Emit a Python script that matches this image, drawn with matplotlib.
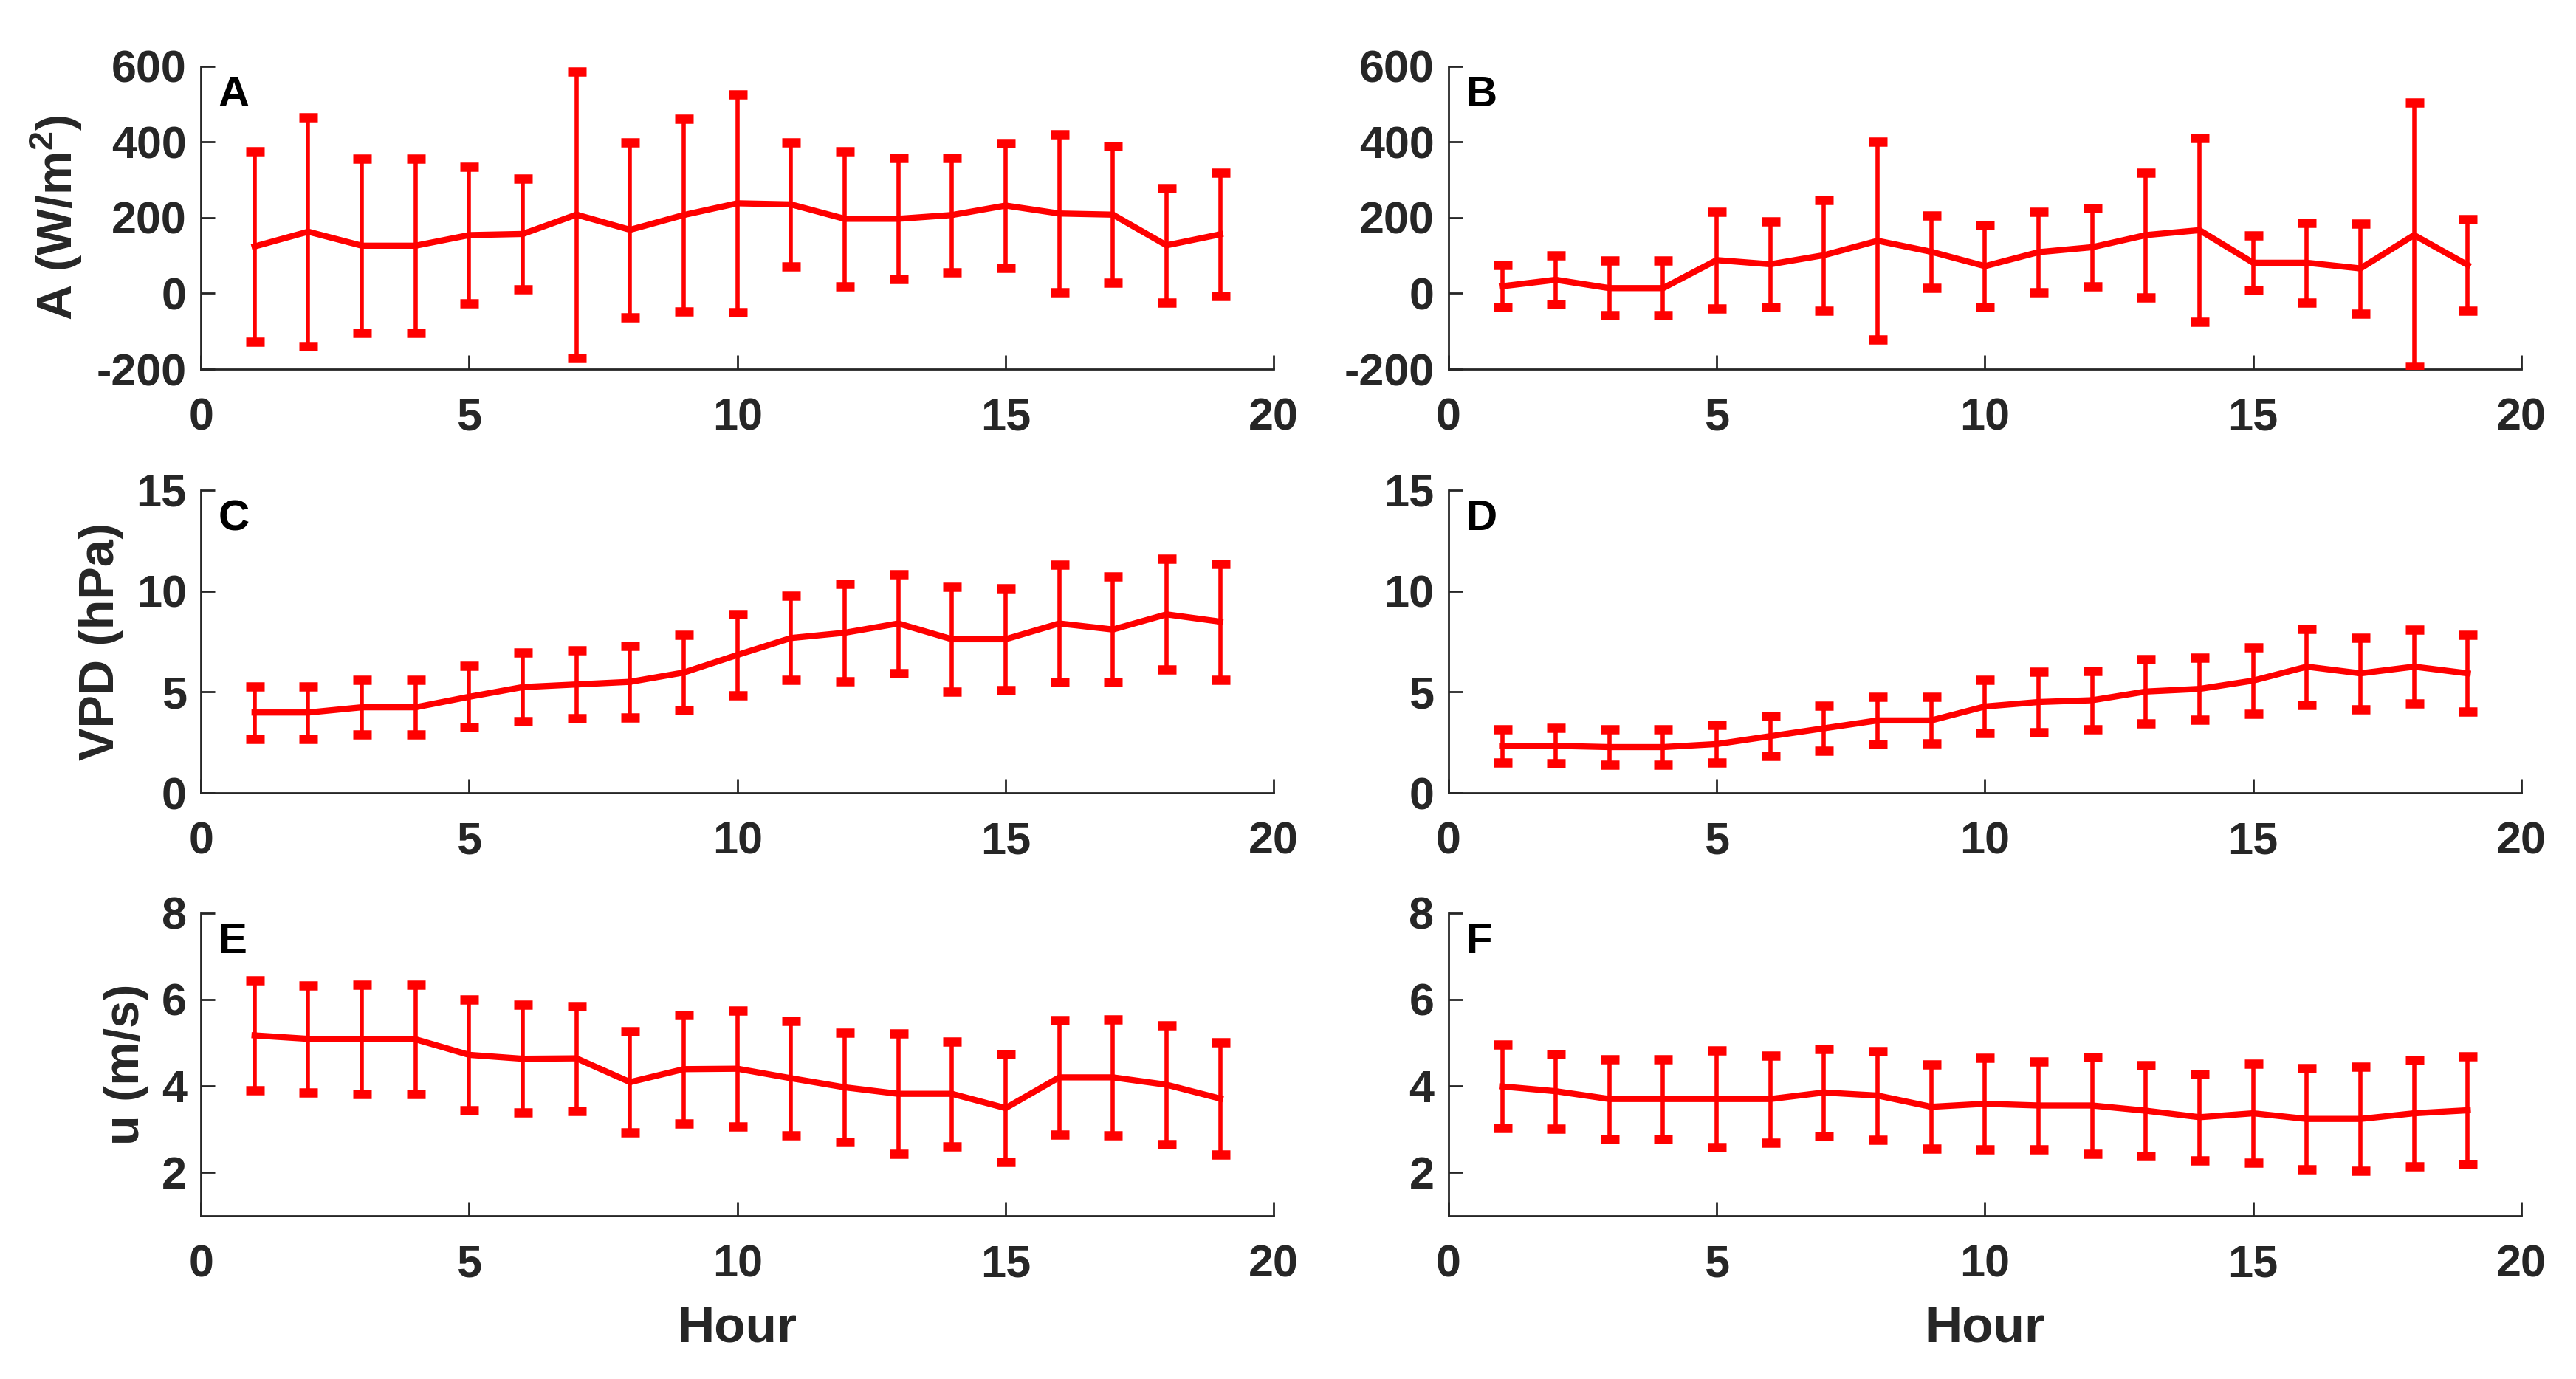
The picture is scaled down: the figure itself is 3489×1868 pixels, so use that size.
import matplotlib
matplotlib.use("Agg")
import matplotlib.pyplot as plt
import numpy as np

plt.rcParams['font.family'] = ['Liberation Sans', 'DejaVu Sans']
plt.rcParams['font.weight'] = 'bold'
plt.rcParams['mathtext.default'] = 'regular'
plt.rcParams['axes.unicode_minus'] = False

# hours 1..19
hours = np.arange(1, 20)

# A - site 1 (mean, sd)
a_left = [124, 163, 126, 126, 154, 157, 208, 168, 207, 238, 235, 197, 197, 207, 232, 211, 208, 127, 156]
a_left_sd = [252, 302, 230, 230, 180, 146, 378, 231, 254, 287, 163, 179, 160, 151, 165, 209, 180, 151, 162]
# B - site 2
a_right = [19, 36, 14, 14, 88, 77, 101, 139, 110, 72, 109, 122, 154, 167, 81, 81, 66, 154, 75]
a_right_sd = [56, 64, 72, 72, 128, 113, 146, 261, 96, 109, 107, 104, 164, 243, 72, 106, 119, 349, 120]

# C / D - VPD
vpd_left = [3.98, 3.98, 4.24, 4.24, 4.76, 5.24, 5.37, 5.50, 5.96, 6.83, 7.67, 7.93, 8.39, 7.61, 7.61, 8.39, 8.09, 8.84, 8.48]
vpd_left_sd = [1.30, 1.30, 1.35, 1.35, 1.52, 1.69, 1.68, 1.78, 1.88, 2.01, 2.09, 2.42, 2.45, 2.59, 2.52, 2.92, 2.62, 2.74, 2.87]
vpd_right = [2.33, 2.33, 2.27, 2.27, 2.42, 2.81, 3.20, 3.59, 3.59, 4.28, 4.50, 4.59, 5.02, 5.15, 5.56, 6.25, 5.92, 6.25, 5.92]
vpd_right_sd = [0.83, 0.88, 0.88, 0.88, 0.93, 0.99, 1.11, 1.18, 1.15, 1.30, 1.51, 1.46, 1.59, 1.53, 1.66, 1.88, 1.77, 1.82, 1.89]

# E / F - wind speed
u_left = [5.17, 5.09, 5.08, 5.08, 4.72, 4.63, 4.64, 4.09, 4.39, 4.40, 4.18, 3.97, 3.82, 3.82, 3.49, 4.20, 4.20, 4.03, 3.71]
u_left_sd = [1.27, 1.24, 1.26, 1.26, 1.28, 1.25, 1.21, 1.17, 1.25, 1.34, 1.32, 1.26, 1.39, 1.21, 1.25, 1.32, 1.34, 1.37, 1.30]
u_right = [3.99, 3.88, 3.70, 3.70, 3.70, 3.70, 3.85, 3.78, 3.52, 3.59, 3.55, 3.55, 3.43, 3.28, 3.37, 3.24, 3.24, 3.37, 3.44]
u_right_sd = [0.96, 0.86, 0.92, 0.92, 1.12, 1.01, 1.00, 1.03, 0.97, 1.06, 1.02, 1.11, 1.05, 1.00, 1.14, 1.17, 1.20, 1.23, 1.24]

panels = [
    ("A", a_left, a_left_sd, (-200, 600), [-200, 0, 200, 400, 600], r"A (W/m$^{2}$)"),
    ("B", a_right, a_right_sd, (-200, 600), [-200, 0, 200, 400, 600], None),
    ("C", vpd_left, vpd_left_sd, (0, 15), [0, 5, 10, 15], "VPD (hPa)"),
    ("D", vpd_right, vpd_right_sd, (0, 15), [0, 5, 10, 15], None),
    ("E", u_left, u_left_sd, (1, 8), [2, 4, 6, 8], "u (m/s)"),
    ("F", u_right, u_right_sd, (1, 8), [2, 4, 6, 8], None),
]

fig = plt.figure(figsize=(34.89, 18.68), dpi=100)

lefts = [0.078, 0.5623]
width = 0.4165
bottoms = [0.7323, 0.425, 0.1183]
height = 0.2197

for i, (letter, mean, sd, ylim, yticks, ylabel) in enumerate(panels):
    row, col = i // 2, i % 2
    ax = fig.add_axes([lefts[col], bottoms[row], width, height])
    ax.errorbar(hours, mean, yerr=sd, color='#ff0000', lw=6, elinewidth=4,
                capsize=9, capthick=9, zorder=3)
    ax.set_xlim(0, 20)
    ax.set_ylim(*ylim)
    ax.set_xticks([0, 5, 10, 15, 20])
    ax.set_yticks(yticks)
    ax.spines['top'].set_visible(False)
    ax.spines['right'].set_visible(False)
    for s in ['left', 'bottom']:
        ax.spines[s].set_color('#262626')
        ax.spines[s].set_linewidth(2)
    ax.tick_params(direction='in', length=14, width=2, color='#262626',
                   labelsize=44, labelcolor='#262626')
    ax.tick_params(axis='x', pad=28)
    ax.tick_params(axis='y', pad=14)
    for lab in ax.get_xticklabels() + ax.get_yticklabels():
        lab.set_fontweight('bold')
    ax.text(0.016, 0.97, letter, transform=ax.transAxes, fontsize=42,
            fontweight='bold', va='top', ha='left', color='black')
    if ylabel:
        ax.set_ylabel(ylabel, fontsize=48, fontweight='bold', labelpad=12,
                      color='#262626')
    if row == 2:
        ax.set_xlabel("Hour", fontsize=50, fontweight='bold', labelpad=18,
                      color='#262626')

fig.savefig("out.png", dpi=100, facecolor='white')
